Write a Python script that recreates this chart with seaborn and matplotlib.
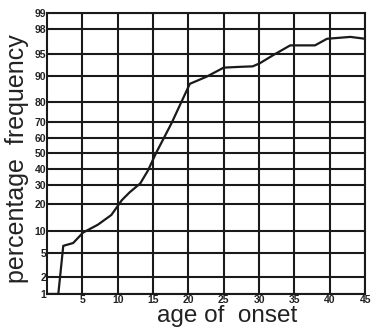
import numpy as np
import pandas as pd
import matplotlib
matplotlib.use("Agg")
import matplotlib.pyplot as plt
import seaborn as sns
from statistics import NormalDist

# data (cumulative % vs age of onset)
age = [0, 1.6, 2.3, 3.7, 5.1, 7.2, 9.1, 10.6, 11.7, 13.2, 14.3, 15.4, 17.6,
       20.2, 21.0, 22.6, 25.0, 27.5, 29.1, 30.1, 32.0, 34.4, 37.9, 39.6, 42.9, 45]
pct = [1, 1, 6.3, 6.9, 9.5, 11.9, 15.4, 22, 26, 31, 39, 50, 69,
       87.5, 88.3, 89.8, 92.2, 92.4, 92.5, 93.2, 94.8, 96.3, 96.3, 97.1, 97.3, 97.1]

x_ticks = [5, 10, 15, 20, 25, 30, 35, 40, 45]
y_ticks = [1, 2, 5, 10, 20, 30, 40, 50, 60, 70, 80, 90, 95, 98, 99]

df = pd.DataFrame({"age": age, "pct": pct})

sns.set_style("white")
plt.rcParams["font.family"] = ["Liberation Sans", "DejaVu Sans"]

# normal probability scale for the y axis
nd = NormalDist()
_ppf = np.vectorize(lambda v: nd.inv_cdf(v / 100.0), otypes=[float])
_cdf = np.vectorize(lambda v: nd.cdf(v) * 100.0, otypes=[float])

def fwd(p):
    p = np.clip(np.asarray(p, dtype=float), 0.01, 99.99)
    return _ppf(p)

def inv(z):
    return _cdf(np.asarray(z, dtype=float))

fig = plt.figure(figsize=(3.73, 3.27), dpi=100)
ax = fig.add_axes([0.126, 0.101, 0.853, 0.86])
ax.set_yscale("function", functions=(fwd, inv))

sns.lineplot(data=df, x="age", y="pct", color="#1a1a1a", linewidth=1.6, ax=ax)

ax.set_xlim(0, 45)
ax.set_ylim(1, 99)
ax.set_xticks(x_ticks)
ax.set_yticks(y_ticks)
ax.set_xticklabels([str(t) for t in x_ticks], fontsize=7.5, fontweight="bold")
ax.set_yticklabels([str(t) for t in y_ticks], fontsize=7.5, fontweight="bold")
ax.minorticks_off()
ax.tick_params(axis="both", length=0, pad=0.5, colors="#222222")
ax.grid(True, color="#1a1a1a", linewidth=1.5)
for s in ax.spines.values():
    s.set_color("#1a1a1a")
    s.set_linewidth(1.5)

ax.set_xlabel("age of  onset", fontsize=17.5, color="#222222")
ax.xaxis.set_label_coords(0.566, -0.04)
ax.set_ylabel("percentage  frequency", fontsize=18, color="#222222", va="center")
ax.yaxis.set_label_coords(-0.094, 0.48)

fig.savefig("out.png", dpi=100)
